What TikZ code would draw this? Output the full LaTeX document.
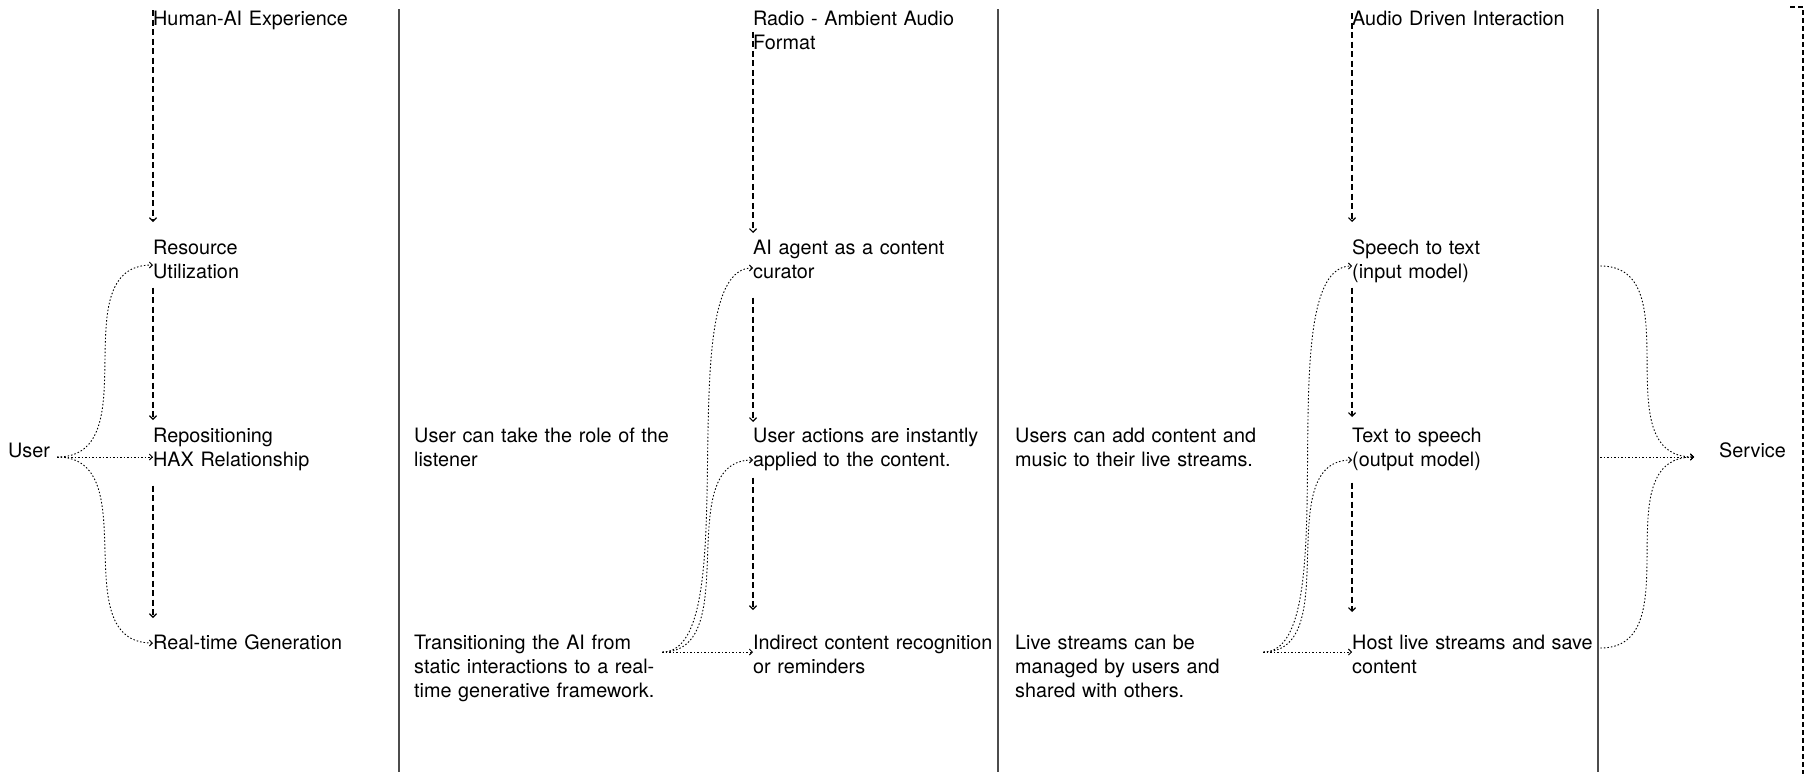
\documentclass[tikz,border=0pt]{standalone}
\usepackage{fontspec}
\setmainfont{TeX Gyre Heros}
\usetikzlibrary{arrows.meta, positioning}

\begin{document}
\begin{tikzpicture}[x=1pt, y=-1pt, >={Straight Barb[length=3.5pt,width=7pt]}, font=\fontsize{19.8}{24}\selectfont]
  \tikzstyle{txt}=[anchor=north west, inner sep=0, text width=248pt, align=left, execute at begin node=\strut]
  \tikzstyle{seq}=[->, line width=1.2pt, dash pattern=on 6pt off 3.5pt]
  \tikzstyle{link}=[-{Straight Barb[length=3pt,width=6pt]}, line width=0.9pt, dash pattern=on 1.5pt off 2pt]
  \tikzstyle{sep}=[line width=1.6pt, draw=black!70]

  \useasboundingbox (0,0) rectangle (1812,774);

  % ends of the chain
  \node[anchor=base west, inner sep=0] (user) at (8,457) {User};
  \node[anchor=base west, inner sep=0] (serv) at (1719,457) {Service};

  % column 1
  \node[txt] (hax) at (153,8) {Human-AI Experience};
  \node[txt] (res) at (153,237) {Resource\\Utilization};
  \node[txt] (rep) at (153,425) {Repositioning\\HAX Relationship};
  \node[txt] (gen) at (153,632) {Real-time Generation};

  % column 2
  \node[txt, text width=280pt] (lis) at (414,425) {User can take the role of the\\listener};
  \node[txt] (trn) at (414,632) {Transitioning the AI from\\static interactions to a real-\\time generative framework.};

  % column 3
  \node[txt] (rad) at (753,8) {Radio - Ambient Audio\\Format};
  \node[txt] (cur) at (753,237) {AI agent as a content\\curator};
  \node[txt] (act) at (753,425) {User actions are instantly\\applied to the content.};
  \node[txt] (rec) at (753,632) {Indirect content recognition\\or reminders};

  % column 4
  \node[txt] (add) at (1015,425) {Users can add content and\\music to their live streams.};
  \node[txt] (liv) at (1015,632) {Live streams can be\\managed by users and\\shared with others.};

  % column 5
  \node[txt] (aud) at (1352,8) {Audio Driven Interaction};
  \node[txt] (stt) at (1352,237) {Speech to text\\(input model)};
  \node[txt] (tts) at (1352,425) {Text to speech\\(output model)};
  \node[txt] (hst) at (1352,632) {Host live streams and save\\content};

  % separators and frame
  \foreach \x in {399, 998, 1598} \draw[sep] (\x,9) -- (\x,772);
  \draw[line width=1.8pt, dash pattern=on 5pt off 3pt] (1790,7) -- (1803,7) -- (1803,774);

  % vertical sequences
  \draw[seq, shorten <=2pt, shorten >=15pt] (hax.north west) -- (res.north west);
  \draw[seq, shorten <=9pt, shorten >=5pt] (res.south west) -- (rep.north west);
  \draw[seq, shorten <=15pt, shorten >=14pt] (rep.south west) -- (gen.north west);
  \draw[seq, shorten <=3pt, shorten >=4pt] (rad.west) -- (cur.north west);
  \draw[seq, shorten <=19pt, shorten >=3pt] (cur.south west) -- (act.north west);
  \draw[seq, shorten <=7pt, shorten >=22pt] (act.south west) -- (rec.north west);
  \draw[seq, shorten <=5pt, shorten >=15pt] (aud.north west) -- (stt.north west);
  \draw[seq, shorten <=5pt, shorten >=8pt] (stt.south west) -- (tts.north west);
  \draw[seq, shorten <=12pt, shorten >=20pt] (tts.south west) -- (hst.north west);

  % user fan
  \draw[link] ([xshift=7pt]user.base east) to[out=0,in=180,looseness=1.1] ([yshift=-28pt]res.north west);
  \draw[link] ([xshift=7pt]user.base east) -- ([yshift=-32pt]rep.north west);
  \draw[link] ([xshift=7pt]user.base east) to[out=0,in=180,looseness=1.1] ([yshift=-11pt]gen.north west);

  % column 2 to column 3
  \draw[link] ([yshift=-20pt]trn.north east) to[out=0,in=180,looseness=0.55] ([yshift=-31pt]cur.north west);
  \draw[link] ([yshift=-20pt]trn.north east) to[out=0,in=180] ([yshift=-35pt]act.north west);
  \draw[link] ([yshift=-20pt]trn.north east) -- ([yshift=-20pt]rec.north west);

  % column 4 to column 5
  \draw[link] ([yshift=-20pt]liv.north east) to[out=0,in=180,looseness=0.55] ([yshift=-29pt]stt.north west);
  \draw[link] ([yshift=-20pt]liv.north east) to[out=0,in=180] ([yshift=-35pt]tts.north west);
  \draw[link] ([yshift=-20pt]liv.north east) -- ([yshift=-20pt]hst.north west);

  % service fan
  \draw[link] ([yshift=-29pt]stt.north east) to[out=0,in=180,looseness=1.1] ([xshift=-25pt]serv.base west);
  \draw[link] ([yshift=-32pt]tts.north east) -- ([xshift=-25pt]serv.base west);
  \draw[link] ([yshift=-16pt]hst.north east) to[out=0,in=180,looseness=1.1] ([xshift=-25pt]serv.base west);
\end{tikzpicture}
\end{document}
